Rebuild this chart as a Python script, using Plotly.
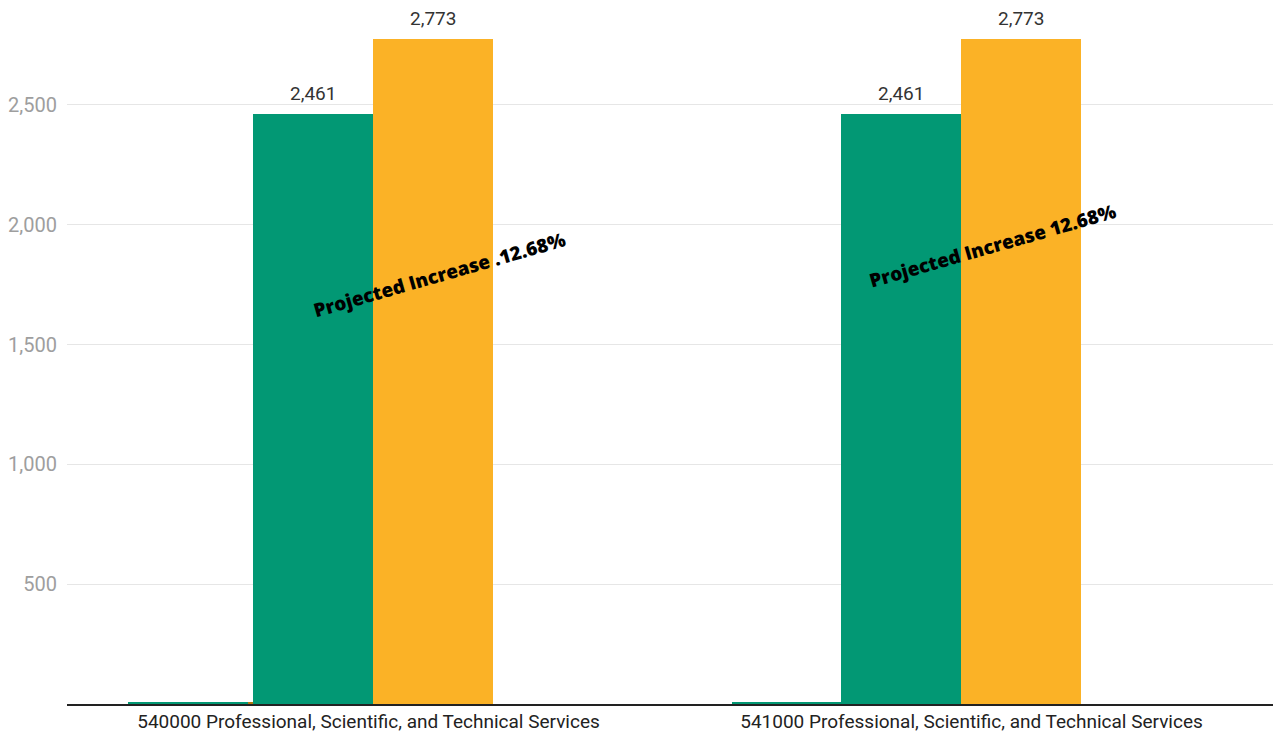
import plotly.graph_objects as go

categories = ["540000 Professional, Scientific, and Technical Services",
              "541000 Professional, Scientific, and Technical Services"]
small_a = [5, 5]
small_b = [5, 5]
current = [2461, 2461]
projected = [2773, 2773]
notes = ["Projected Increase .12.68%", "Projected Increase 12.68%"]
note_x = [0.117, 1.034]
note_y = [1790, 1910]
y_ticks = [500, 1000, 1500, 2000, 2500]

green = "#029874"
orange = "#FBB226"
W = 0.199
off_small_a = [-0.399, -0.397]
off_small_b = [-0.2, -0.198]
off_current = [-0.1915, -0.2164]
off_projected = [0.0075, -0.0174]

fig = go.Figure()
fig.add_bar(x=categories, y=small_a, marker_color=green, width=W,
            offset=off_small_a, marker_line_width=0, hoverinfo="skip")
fig.add_bar(x=categories, y=small_b, marker_color="#B07A10", width=W,
            offset=off_small_b, marker_line_width=0, hoverinfo="skip")
fig.add_bar(x=categories, y=current, marker_color=green, width=W,
            offset=off_current, marker_line_width=0)
fig.add_bar(x=categories, y=projected, marker_color=orange, width=W,
            offset=off_projected, marker_line_width=0)

# value labels above the big bars
for vals, offs in ((current, off_current), (projected, off_projected)):
    for i, (v, o) in enumerate(zip(vals, offs)):
        fig.add_annotation(x=i + o + W / 2, y=v, xref="x", yref="y",
                           text=f"{v:,}", showarrow=False, yanchor="bottom",
                           yshift=7,
                           font=dict(size=19, color="#333333", family="Roboto"))

for t, ax, ay in zip(notes, note_x, note_y):
    fig.add_annotation(x=ax, y=ay, xref="x", yref="y", text=t,
                       showarrow=False, textangle=-16,
                       font=dict(size=19, color="#000000", family="Open Sans",
                                 weight=800))

fig.update_layout(
    width=1273, height=733,
    margin=dict(l=67, r=0, t=9, b=29),
    plot_bgcolor="white", paper_bgcolor="white",
    showlegend=False, barmode="overlay", bargap=0,
    font=dict(family="Roboto"),
)
fig.update_xaxes(type="category", range=[-0.5, 1.5], showgrid=False,
                 showline=True, linecolor="#222222", linewidth=2,
                 tickfont=dict(size=19, color="#222222", family="Roboto"),
                 ticks="", ticklabelstandoff=-1, automargin=False)
fig.update_yaxes(range=[0, 2900], tickvals=y_ticks, tickformat=",",
                 showgrid=True, gridcolor="#e6e6e6", gridwidth=1,
                 zeroline=False, showline=False, automargin=False,
                 tickfont=dict(size=20, color="#9e9e9e", family="Roboto"),
                 ticklabelstandoff=9)

fig.write_html("out.html")
